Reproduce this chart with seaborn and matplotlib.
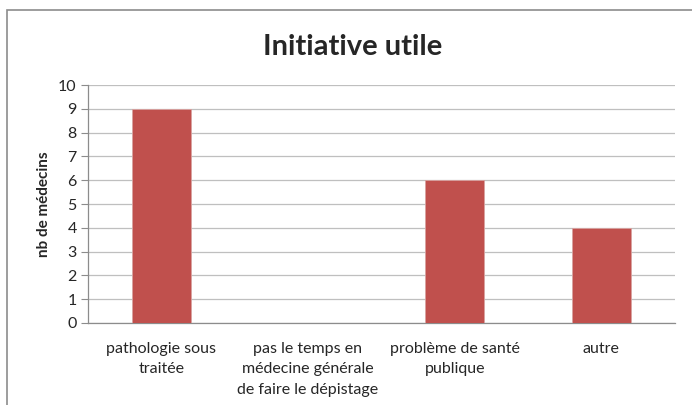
import matplotlib
matplotlib.use("Agg")
import matplotlib.pyplot as plt
import seaborn as sns
import pandas as pd
from matplotlib.patches import Rectangle

categories = [
    "pathologie sous\ntraitée",
    "pas le temps en\nmédecine générale\nde faire le dépistage",
    "problème de santé\npublique",
    "autre",
]
values = [9, 0, 6, 4]

df = pd.DataFrame({"categorie": categories, "nb": values})

sns.set_style("white")
plt.rcParams["font.family"] = ["Lato", "DejaVu Sans"]

fig = plt.figure(figsize=(6.92, 4.05), dpi=100)
ax = fig.add_axes([0.127, 0.2025, 0.848, 0.5875])

# chart frame like the spreadsheet export
fig.patches.append(Rectangle((0.010, -0.01), 1.0, 0.985, transform=fig.transFigure,
                             fill=False, edgecolor="#8c8c8c", linewidth=1.2))

sns.barplot(data=df, x="categorie", y="nb", color="#C0504D", saturation=1,
            width=0.4, edgecolor="#d9a3a1", linewidth=0.6, ax=ax, zorder=3)

ax.set_ylim(0, 10)
ax.set_yticks(range(0, 11))
ax.yaxis.grid(True, color="#bfbfbf", linewidth=0.9, zorder=0)
ax.set_axisbelow(True)
ax.set_xlabel("")
ax.set_ylabel("nb de médecins", fontsize=11, fontweight="bold", labelpad=5)
fig.text(0.51, 0.884, "Initiative utile", fontsize=21, fontweight="bold",
         ha="center", va="center")

for side in ["top", "right"]:
    ax.spines[side].set_visible(False)
for side in ["left", "bottom"]:
    ax.spines[side].set_color("#8c8c8c")
    ax.spines[side].set_linewidth(0.9)

ax.tick_params(axis="y", which="major", left=True, length=5, color="#8c8c8c",
               labelsize=11.5, pad=3)
ax.tick_params(axis="x", bottom=False, labelsize=11.5, pad=10)
for lab in ax.get_xticklabels():
    lab.set_linespacing(1.6)

plt.savefig("out.png", dpi=100)
